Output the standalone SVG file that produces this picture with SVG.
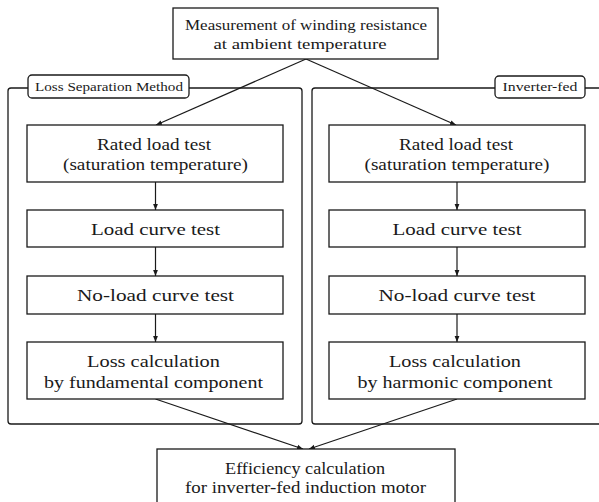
<svg xmlns="http://www.w3.org/2000/svg" width="599" height="502" viewBox="0 0 599 502">
<defs>
<marker id="ah" viewBox="0 0 10 10" refX="10" refY="5" markerWidth="6" markerHeight="6" orient="auto" markerUnits="userSpaceOnUse">
<path d="M0,1 L10,5 L0,9 z" fill="#1a1a1a"/>
</marker>
<style>
.box{fill:#fff;stroke:#1a1a1a;stroke-width:1.3}
.frame{fill:none;stroke:#1a1a1a;stroke-width:1.3}
.lbl{fill:#fff;stroke:#1a1a1a;stroke-width:1.3}
.t{font-family:"Liberation Serif","DejaVu Serif",serif;font-size:17px;fill:#1a1a1a;text-anchor:middle}
.s{font-family:"Liberation Serif","DejaVu Serif",serif;font-size:15px;fill:#1a1a1a;text-anchor:middle}
.l{font-family:"Liberation Serif","DejaVu Serif",serif;font-size:12.5px;fill:#1a1a1a;text-anchor:middle}
.c{fill:none;stroke:#1a1a1a;stroke-width:1.2;marker-end:url(#ah)}
</style>
</defs>
<rect width="599" height="502" fill="#fff"/>
<g id="frames">
<rect class="frame" x="8" y="88" width="294" height="336" rx="3"/>
<rect class="frame" x="312" y="88" width="300" height="336" rx="3"/>
</g>
<g id="label-loss-separation">
<rect class="lbl" x="28" y="75" width="161" height="23" rx="4"/>
<text class="l" x="109" y="91" textLength="148" lengthAdjust="spacingAndGlyphs">Loss Separation Method</text>
</g>
<g id="label-inverter-fed">
<rect class="lbl" x="495" y="76" width="90" height="22" rx="4"/>
<text class="l" x="540" y="91" textLength="75" lengthAdjust="spacingAndGlyphs">Inverter-fed</text>
</g>
<g id="connectors">
<line class="c" x1="306" y1="59" x2="156" y2="125"/>
<line class="c" x1="306" y1="59" x2="456" y2="125"/>
<line class="c" x1="155.5" y1="182" x2="155.5" y2="210"/>
<line class="c" x1="155.5" y1="247" x2="155.5" y2="276"/>
<line class="c" x1="155.5" y1="314" x2="155.5" y2="342"/>
<line class="c" x1="457" y1="182" x2="457" y2="210"/>
<line class="c" x1="457" y1="247" x2="457" y2="276"/>
<line class="c" x1="457" y1="314" x2="457" y2="342"/>
<line class="c" x1="155.5" y1="399" x2="303" y2="449"/>
<line class="c" x1="457" y1="399" x2="309" y2="449"/>
</g>
<g id="measurement">
<rect class="box" x="173" y="8" width="265" height="51"/>
<text class="s" x="306" y="30" textLength="242" lengthAdjust="spacingAndGlyphs">Measurement of winding resistance</text>
<text class="s" x="300" y="49" textLength="173" lengthAdjust="spacingAndGlyphs">at ambient temperature</text>
</g>
<g id="left-rated">
<rect class="box" x="27" y="125" width="256" height="57"/>
<text class="t" x="154" y="150" textLength="114" lengthAdjust="spacingAndGlyphs">Rated load test</text>
<text class="t" x="155.5" y="170" textLength="185" lengthAdjust="spacingAndGlyphs">(saturation temperature)</text>
</g>
<g id="left-load">
<rect class="box" x="27" y="210" width="256" height="37"/>
<text class="t" x="155.5" y="235" textLength="129" lengthAdjust="spacingAndGlyphs">Load curve test</text>
</g>
<g id="left-noload">
<rect class="box" x="27" y="276" width="256" height="38"/>
<text class="t" x="155.5" y="301" textLength="157" lengthAdjust="spacingAndGlyphs">No-load curve test</text>
</g>
<g id="left-loss">
<rect class="box" x="27" y="342" width="256" height="57"/>
<text class="t" x="153.5" y="367" textLength="133" lengthAdjust="spacingAndGlyphs">Loss calculation</text>
<text class="t" x="153.5" y="388" textLength="219" lengthAdjust="spacingAndGlyphs">by fundamental component</text>
</g>
<g id="right-rated">
<rect class="box" x="329" y="125" width="256" height="57"/>
<text class="t" x="456" y="150" textLength="114" lengthAdjust="spacingAndGlyphs">Rated load test</text>
<text class="t" x="457" y="170" textLength="185" lengthAdjust="spacingAndGlyphs">(saturation temperature)</text>
</g>
<g id="right-load">
<rect class="box" x="329" y="210" width="256" height="37"/>
<text class="t" x="457" y="235" textLength="129" lengthAdjust="spacingAndGlyphs">Load curve test</text>
</g>
<g id="right-noload">
<rect class="box" x="329" y="276" width="256" height="38"/>
<text class="t" x="457" y="301" textLength="157" lengthAdjust="spacingAndGlyphs">No-load curve test</text>
</g>
<g id="right-loss">
<rect class="box" x="329" y="342" width="256" height="57"/>
<text class="t" x="455" y="367" textLength="132" lengthAdjust="spacingAndGlyphs">Loss calculation</text>
<text class="t" x="455" y="388" textLength="195" lengthAdjust="spacingAndGlyphs">by harmonic component</text>
</g>
<g id="efficiency">
<rect class="box" x="157" y="449" width="298" height="60"/>
<text class="t" x="305" y="474" textLength="160" lengthAdjust="spacingAndGlyphs">Efficiency calculation</text>
<text class="t" x="305.5" y="493" textLength="241" lengthAdjust="spacingAndGlyphs">for inverter-fed induction motor</text>
</g>
</svg>
